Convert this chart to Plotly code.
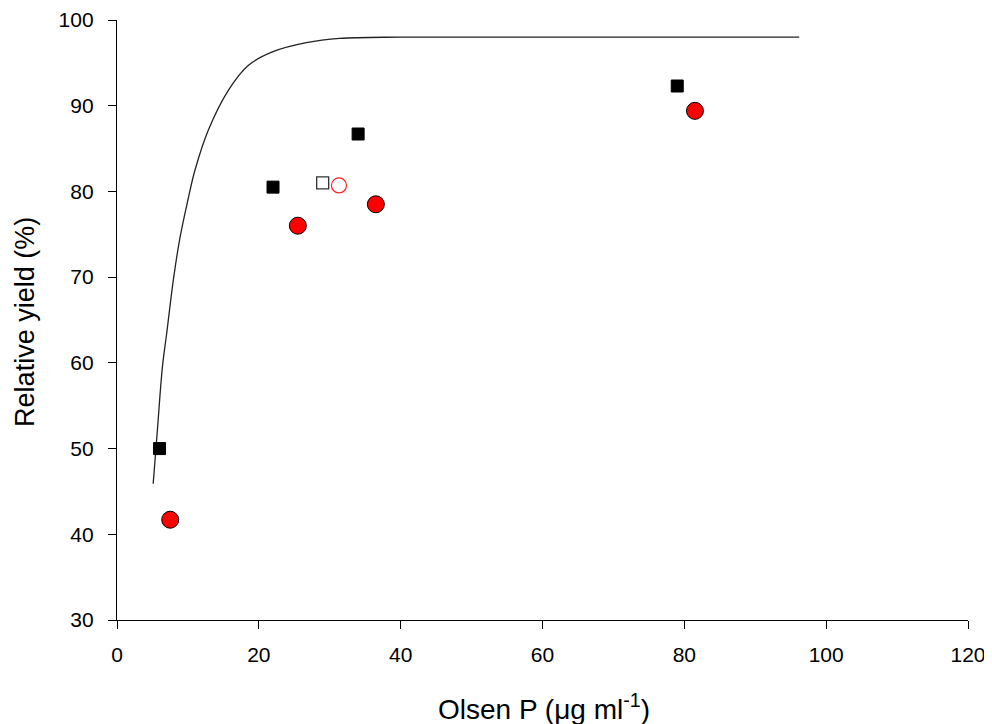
import plotly.graph_objects as go

# Filled black squares
sq_x = [6.0, 22.0, 34.0, 79.0]
sq_y = [50.0, 80.5, 86.7, 92.3]
# Open square
osq_x = [29.0]
osq_y = [81.0]
# Filled red circles
rc_x = [7.5, 25.5, 36.5, 81.5]
rc_y = [41.7, 76.0, 78.5, 89.4]
# Open red circle
orc_x = [31.3]
orc_y = [80.7]
# Fitted response curve
curve_x = [5.1, 5.7, 6.4, 7.0, 8.0, 8.9, 10.0, 11.0, 12.9, 15.7, 18.5, 22.0, 26.7, 31.4, 40.0, 60.0, 80.0, 96.2]
curve_y = [45.9, 52.2, 59.5, 63.4, 70.0, 74.7, 79.0, 82.5, 87.2, 91.8, 94.7, 96.3, 97.35, 97.85, 98.0, 98.0, 98.0, 98.0]

x_ticks = [0, 20, 40, 60, 80, 100, 120]
y_ticks = [30, 40, 50, 60, 70, 80, 90, 100]

x_title = "Olsen P (μg ml<sup>-1</sup>)"
y_title = "Relative yield (%)"

fig = go.Figure()
fig.add_trace(go.Scatter(x=curve_x, y=curve_y, mode="lines",
                         line=dict(color="#222222", width=1.3, shape="spline", smoothing=1.0),
                         showlegend=False, hoverinfo="skip"))
fig.add_trace(go.Scatter(x=sq_x, y=sq_y, mode="markers",
                         marker=dict(symbol="square", size=12, color="black",
                                     line=dict(color="black", width=1)), showlegend=False))
fig.add_trace(go.Scatter(x=osq_x, y=osq_y, mode="markers",
                         marker=dict(symbol="square", size=12, color="white",
                                     line=dict(color="#333333", width=1.3)), showlegend=False))
fig.add_trace(go.Scatter(x=rc_x, y=rc_y, mode="markers",
                         marker=dict(symbol="circle", size=17, color="#ff0000",
                                     line=dict(color="black", width=1)), showlegend=False))
fig.add_trace(go.Scatter(x=orc_x, y=orc_y, mode="markers",
                         marker=dict(symbol="circle", size=15, color="white",
                                     line=dict(color="#ff2020", width=1.2)), showlegend=False))

axis_common = dict(showline=True, linecolor="black", linewidth=1.3, ticks="outside",
                   ticklen=8, tickwidth=1.3, tickcolor="black", showgrid=False,
                   zeroline=False, mirror=False, automargin=False,
                   tickfont=dict(family="Liberation Sans, Arial", size=21, color="black"))

fig.update_layout(
    width=984, height=716,
    margin=dict(l=109, r=24, t=12, b=104),
    paper_bgcolor="white", plot_bgcolor="white",
    font=dict(family="Liberation Sans, Arial", color="black"),
    xaxis=dict(range=[0, 120], tickvals=x_ticks, ticklabelstandoff=8, **axis_common),
    yaxis=dict(range=[30, 100], tickvals=y_ticks, ticklabelstandoff=10, **axis_common),
    annotations=[
        dict(text=x_title, xref="paper", yref="paper", x=0.502, y=-0.145,
             xanchor="center", yanchor="middle", showarrow=False,
             font=dict(size=28, color="black")),
        dict(text=y_title, xref="paper", yref="paper", x=-0.108, y=0.497,
             xanchor="center", yanchor="middle", showarrow=False, textangle=-90,
             font=dict(size=27, color="black")),
    ],
)
fig.write_html("out.html")
